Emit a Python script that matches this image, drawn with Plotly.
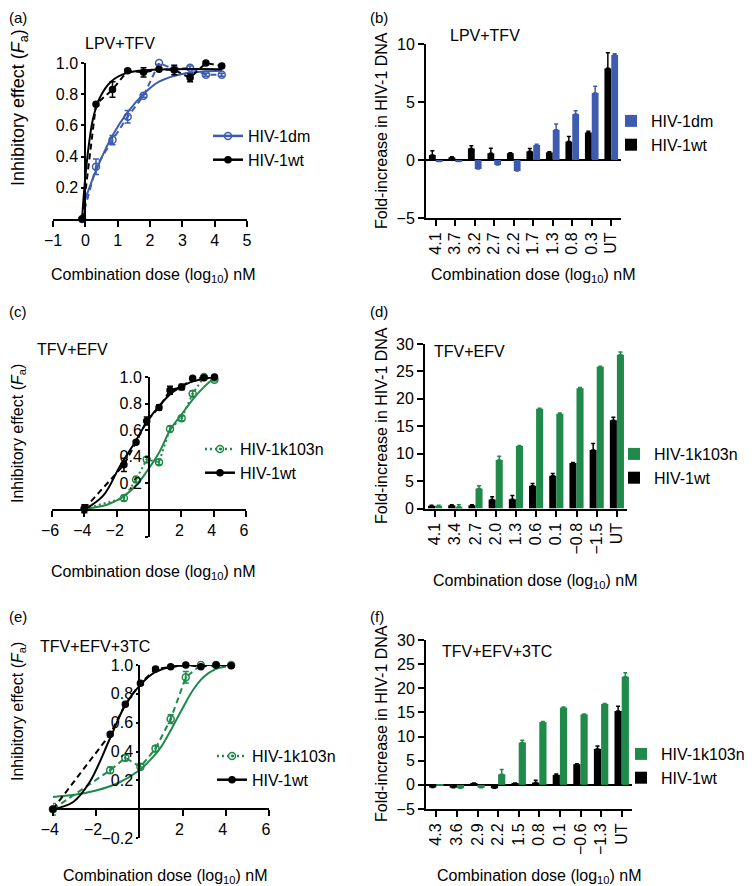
import plotly.graph_objects as go

# the page body keeps its 8px margin, so the figure is laid out 8px in
W, H = 744, 878
OFF = 8
BLUE = '#3d5cb0'
GREEN = '#1f8a4a'
BLACK = '#000000'
FONT = 'Liberation Sans'

# ---------------- (a) LPV+TFV, inhibitory effect
a_dose = [-0.1, 0.33, 0.84, 1.31, 1.8, 2.28, 2.75, 3.24, 3.73, 4.22]
a_dm = [0.0, 0.335, 0.506, 0.656, 0.79, 1.0, 0.96, 0.97, 0.925, 0.925]
a_dm_err = [0.0, 0.05, 0.03, 0.04, 0.01, 0.01, 0.01, 0.01, 0.01, 0.01]
a_wt = [0.0, 0.735, 0.83, 0.95, 0.94, 0.96, 0.955, 0.905, 1.0, 0.98]
a_wt_err = [0.0, 0.01, 0.05, 0.01, 0.03, 0.01, 0.03, 0.025, 0.01, 0.01]
a_fit_dose_dm = [-0.05, 0.33, 0.84, 1.31, 1.82, 2.28, 3.0, 4.24]
a_fit_dm = [0.1, 0.31, 0.535, 0.685, 0.805, 0.88, 0.93, 0.95]
a_fit_dose_wt = [-0.1, -0.03, 0.07, 0.23, 0.43, 0.79, 1.26, 1.98, 4.22]
a_fit_wt = [0.0, 0.2, 0.41, 0.635, 0.77, 0.88, 0.935, 0.955, 0.96]

# ---------------- (b) LPV+TFV, fold increase
b_cats = ['4.1', '3.7', '3.2', '2.7', '2.2', '1.7', '1.3', '0.8', '0.3', 'UT']
b_wt = [0.43, 0.23, 1.0, 0.58, 0.58, 0.75, 0.66, 1.59, 2.37, 7.9]
b_wt_err = [0.37, 0.05, 0.23, 0.43, 0.05, 0.25, 0.05, 0.43, 0.1, 1.35]
b_dm = [-0.12, -0.12, -0.78, -0.43, -0.95, 1.3, 2.6, 3.96, 5.78, 9.05]
b_dm_err = [0.0, 0.0, 0.0, 0.0, 0.0, 0.05, 0.5, 0.29, 0.58, 0.1]

# ---------------- (c) TFV+EFV, inhibitory effect
c_dose = [-4.0, -1.55, -0.8, -0.14, 0.62, 1.3, 2.02, 2.7, 3.4, 4.05]
c_k103n = [0.01, 0.09, 0.23, 0.38, 0.36, 0.61, 0.69, 0.875, 1.0, 0.98]
c_k103n_err = [0.02, 0.02, 0.02, 0.02, 0.02, 0.02, 0.02, 0.02, 0.01, 0.01]
c_wt = [0.01, 0.34, 0.51, 0.67, 0.77, 0.9, 0.925, 0.99, 0.995, 1.0]
c_wt_err = [0.03, 0.05, 0.01, 0.03, 0.02, 0.03, 0.02, 0.01, 0.01, 0.01]
c_fit_dose_k = [-3.9, -2.6, -1.6, -0.76, -0.14, 0.62, 1.3, 2.02, 2.7, 3.36, 4.02]
c_fit_k = [0.01, 0.04, 0.1, 0.19, 0.29, 0.43, 0.6, 0.72, 0.83, 0.92, 0.99]
c_fit_dose_wt = [-3.9, -2.82, -1.8, -0.87, -0.14, 0.68, 1.5, 2.54, 4.0]
c_fit_wt = [0.01, 0.11, 0.33, 0.51, 0.66, 0.79, 0.89, 0.96, 1.0]

# ---------------- (d) TFV+EFV, fold increase
d_cats = ['4.1', '3.4', '2.7', '2.0', '1.3', '0.6', '0.1', '\u22120.8', '\u22121.5', 'UT']
d_wt = [0.49, 0.6, 0.6, 1.65, 1.7, 4.15, 5.98, 8.29, 10.67, 16.1]
d_wt_err = [0.1, 0.1, 0.1, 0.5, 0.67, 0.4, 0.4, 0.1, 1.2, 0.55]
d_k103n = [0.5, 0.3, 3.66, 8.84, 11.4, 18.2, 17.3, 21.95, 25.85, 28.05]
d_k103n_err = [0.1, 0.4, 0.5, 0.67, 0.1, 0.1, 0.1, 0.1, 0.1, 0.5]

# ---------------- (e) TFV+EFV+3TC, inhibitory effect
e_dose = [-4.0, -1.35, -0.65, 0.05, 0.75, 1.45, 2.15, 2.85, 3.55, 4.25]
e_k103n = [0.0, 0.27, 0.356, 0.294, 0.42, 0.625, 0.915, 1.0, 1.0, 1.0]
e_k103n_err = [0.04, 0.02, 0.02, 0.02, 0.02, 0.03, 0.04, 0.01, 0.01, 0.01]
e_wt = [0.0, 0.52, 0.727, 0.873, 0.972, 0.988, 1.0, 0.988, 1.0, 0.995]
e_wt_err = [0.01, 0.01, 0.01, 0.01, 0.01, 0.01, 0.01, 0.01, 0.01, 0.01]
e_fit_dose_k = [-4.0, -3.0, -2.0, -1.0, 0.0, 0.5, 1.0, 1.5, 2.0, 2.5, 3.0, 3.5, 4.0]
e_fit_k = [0.085, 0.1, 0.13, 0.18, 0.27, 0.34, 0.43, 0.56, 0.7, 0.83, 0.92, 0.97, 0.99]
e_fit_dose_wt = [-4.0, -3.06, -2.29, -1.36, -0.66, 0.03, 0.73, 1.58, 4.25]
e_fit_wt = [0.0, 0.05, 0.19, 0.49, 0.72, 0.86, 0.95, 0.99, 1.0]

# ---------------- (f) TFV+EFV+3TC, fold increase
f_cats = ['4.3', '3.6', '2.9', '2.2', '1.5', '0.8', '0.1', '\u22120.6', '\u22121.3', 'UT']
f_wt = [-0.55, -0.6, 0.28, -0.7, 0.3, 0.48, 2.07, 4.28, 7.45, 15.3]
f_wt_err = [0.0, 0.0, 0.1, 0.0, 0.1, 0.5, 0.2, 0.1, 0.6, 1.0]
f_k103n = [-0.1, -0.7, -0.6, 2.2, 8.76, 13.0, 16.0, 14.6, 16.76, 22.4]
f_k103n_err = [0.0, 0.0, 0.0, 1.0, 0.5, 0.1, 0.1, 0.1, 0.1, 0.8]


def fx(p):
    # window pixel -> paper fraction
    return (p - OFF) / W


def fy(p):
    return 1 - (p - OFF) / H


fig = go.Figure()


def add_curve(ax, xs, ys, err, fit_x, fit_y, color, symbol, dash, size):
    xa, ya = 'x' + ax, 'y' + ax
    # fitted curve
    fig.add_trace(go.Scatter(x=fit_x, y=fit_y, mode='lines', xaxis=xa, yaxis=ya,
                             line=dict(color=color, width=2, shape='spline', smoothing=1),
                             showlegend=False, cliponaxis=False, hoverinfo='skip'))
    # measured points joined by a broken line
    fig.add_trace(go.Scatter(x=xs, y=ys, mode='lines+markers', xaxis=xa, yaxis=ya,
                             line=dict(color=color, width=2, dash=dash),
                             marker=dict(symbol=symbol, size=size, color=color,
                                         line=dict(color=color, width=1.5)),
                             error_y=dict(type='data', array=err, color=color,
                                          thickness=1.5, width=3),
                             showlegend=False, cliponaxis=False))


def add_key(legend, name, color, symbol, dash, size):
    fig.add_trace(go.Scatter(x=[None], y=[None], mode='lines+markers', name=name,
                             line=dict(color=color, width=2.5, dash=dash),
                             marker=dict(symbol=symbol, size=size, color=color,
                                         line=dict(color=color, width=1.5)),
                             legend=legend))


def add_bars(ax, cats, vals, err, color, name, legend):
    fig.add_trace(go.Bar(x=cats, y=vals, name=name, marker=dict(color=color, line_width=0),
                         error_y=dict(type='data', array=err, arrayminus=[0] * len(err),
                                      symmetric=False, color=color, thickness=1.5, width=2),
                         xaxis='x' + ax, yaxis='y' + ax, legend=legend))


# (a)
add_curve('', a_dose, a_dm, a_dm_err, a_fit_dose_dm, a_fit_dm, BLUE, 'circle-open', '6px,4px', 7)
add_curve('', a_dose, a_wt, a_wt_err, a_fit_dose_wt, a_fit_wt, BLACK, 'circle', '6px,4px', 6)
add_key('legend', 'HIV-1dm', BLUE, 'circle-open', 'solid', 7)
add_key('legend', 'HIV-1wt', BLACK, 'circle', 'solid', 6)

# (b)
add_bars('2', b_cats, b_wt, b_wt_err, BLACK, 'HIV-1wt', 'legend2')
add_bars('2', b_cats, b_dm, b_dm_err, BLUE, 'HIV-1dm', 'legend2')

# (c)
add_curve('3', c_dose, c_k103n, c_k103n_err, c_fit_dose_k, c_fit_k, GREEN, 'circle-open-dot', '2px,3px', 7)
add_curve('3', c_dose, c_wt, c_wt_err, c_fit_dose_wt, c_fit_wt, BLACK, 'circle', '6px,4px', 6)
add_key('legend3', 'HIV-1k103n', GREEN, 'circle-open-dot', '2px,3px', 7)
add_key('legend3', 'HIV-1wt', BLACK, 'circle', 'solid', 6)

# (d)
add_bars('4', d_cats, d_wt, d_wt_err, BLACK, 'HIV-1wt', 'legend4')
add_bars('4', d_cats, d_k103n, d_k103n_err, GREEN, 'HIV-1k103n', 'legend4')

# (e)
add_curve('5', e_dose, e_k103n, e_k103n_err, e_fit_dose_k, e_fit_k, GREEN, 'circle-open-dot', '6px,4px', 7)
add_curve('5', e_dose, e_wt, e_wt_err, e_fit_dose_wt, e_fit_wt, BLACK, 'circle', '6px,4px', 6)
add_key('legend5', 'HIV-1k103n', GREEN, 'circle-open-dot', '2px,3px', 7)
add_key('legend5', 'HIV-1wt', BLACK, 'circle', 'solid', 6)

# (f)
add_bars('6', f_cats, f_wt, f_wt_err, BLACK, 'HIV-1wt', 'legend6')
add_bars('6', f_cats, f_k103n, f_k103n_err, GREEN, 'HIV-1k103n', 'legend6')

base = dict(showline=True, linecolor=BLACK, linewidth=2, ticks='outside', ticklen=6,
            tickwidth=2, tickcolor=BLACK, showgrid=False, zeroline=False, automargin=False,
            tickfont=dict(size=16, color=BLACK), fixedrange=True)
fa_ticks = [0.2, 0.4, 0.6, 0.8, 1.0]
fa_text = ['0.2', '0.4', '0.6', '0.8', '1.0']

axes = {
    'xaxis': dict(base, domain=[fx(53), fx(247)], range=[-1, 5],
                  tickvals=[-1, 0, 1, 2, 3, 4, 5], anchor='y'),
    'yaxis': dict(base, domain=[fy(219), fy(63)], range=[0, 1], tickvals=fa_ticks,
                  ticktext=fa_text, ticklen=3, anchor='free', position=fx(85.3)),
    'xaxis2': dict(base, domain=[fx(426), fx(621)], type='category', range=[-0.5, 9.5],
                   tickangle=-90, anchor='y2'),
    'yaxis2': dict(base, domain=[fy(218), fy(44)], range=[-5, 10], tickvals=[-5, 0, 5, 10],
                   zeroline=True, zerolinecolor=BLACK, zerolinewidth=2, anchor='x2'),
    'xaxis3': dict(base, domain=[fx(52), fx(246)], range=[-6, 6],
                   tickvals=[-6, -4, -2, 2, 4, 6], ticklabelshift=-2,
                   anchor='free', position=fy(510)),
    'yaxis3': dict(base, domain=[fy(536.7), fy(377)], range=[-0.2, 1],
                   tickvals=[-0.2] + fa_ticks, ticktext=[''] + fa_text, ticklen=3,
                   anchor='free', position=fx(149)),
    'xaxis4': dict(base, domain=[fx(425), fx(627)], type='category', range=[-0.5, 9.5],
                   tickangle=-90, anchor='y4'),
    'yaxis4': dict(base, domain=[fy(508.5), fy(344)], range=[0, 30],
                   tickvals=[0, 5, 10, 15, 20, 25, 30], anchor='x4'),
    'xaxis5': dict(base, domain=[fx(52.9), fx(269)], range=[-4, 6],
                   tickvals=[-4, -2, 2, 4, 6], ticklabelshift=-3,
                   anchor='free', position=fy(809.2)),
    'yaxis5': dict(base, domain=[fy(838), fy(665)], range=[-0.2, 1],
                   tickvals=[-0.2] + fa_ticks, ticktext=['\u22120.2'] + fa_text, ticklen=2,
                   anchor='free', position=fx(139.3)),
    'xaxis6': dict(base, domain=[fx(426), fx(632)], type='category', range=[-0.5, 9.5],
                   tickangle=-90, anchor='y6'),
    'yaxis6': dict(base, domain=[fy(809), fy(640)], range=[-5, 30],
                   tickvals=[-5, 0, 5, 10, 15, 20, 25, 30],
                   zeroline=True, zerolinecolor=BLACK, zerolinewidth=2, anchor='x6'),
}


def leg(px, py, order='normal'):
    return dict(x=fx(px), y=fy(py), xanchor='left', yanchor='top', traceorder=order,
                bgcolor='rgba(0,0,0,0)', font=dict(size=16, color=BLACK), itemwidth=30)


legends = {
    'legend': leg(208, 119),
    'legend2': leg(611, 104),
    'legend3': leg(200, 432),
    'legend4': leg(614, 437),
    'legend5': leg(212, 739),
    'legend6': leg(621, 737),
}
for k in ('legend2', 'legend4', 'legend6'):
    legends[k]['traceorder'] = 'reversed'

annotations = []


def note(text, px, py, size=16, xanchor='center', angle=0, yanchor='middle'):
    annotations.append(dict(text=text, x=fx(px), y=fy(py), xref='paper', yref='paper',
                            showarrow=False, xanchor=xanchor, yanchor=yanchor,
                            borderpad=0, textangle=angle,
                            font=dict(size=size, color=BLACK)))


fa_title = 'Inhibitory effect (<i>F</i><sub>a</sub>)'
fold_title = 'Fold-increase in HIV-1 DNA'
dose_title = 'Combination dose (log<sub>10</sub>) nM'

for lab, px, py in [('(a)', 8, 8), ('(b)', 369, 8), ('(c)', 8, 302),
                    ('(d)', 369, 302), ('(e)', 8, 607), ('(f)', 369, 607)]:
    note(lab, px, py, size=15, xanchor='left', yanchor='top')

note('LPV+TFV', 120, 44)
note('LPV+TFV', 485, 36)
note('TFV+EFV', 72, 350)
note('TFV+EFV', 469, 351)
note('TFV+EFV+3TC', 95, 646)
note('TFV+EFV+3TC', 497, 651)

note(fa_title, 19, 108, size=18, angle=-90)
note(fa_title, 18, 434, angle=-90)
note(fa_title, 18, 712, angle=-90)
note(fold_title, 381, 131, angle=-90)
note(fold_title, 381, 426, angle=-90)
note(fold_title, 381, 724, angle=-90)

note(dose_title, 153, 276)
note(dose_title, 533, 276)
note(dose_title, 153, 572)
note(dose_title, 535, 581)
note(dose_title, 165, 876)
note(dose_title, 539, 876)

fig.update_layout(width=W, height=H, margin=dict(l=0, r=0, t=0, b=0, autoexpand=False),
                  paper_bgcolor='white', plot_bgcolor='white',
                  font=dict(family=FONT, size=16, color=BLACK),
                  barmode='group', bargap=0.3, bargroupgap=0,
                  annotations=annotations, **axes, **legends)

fig.write_html("out.html")
